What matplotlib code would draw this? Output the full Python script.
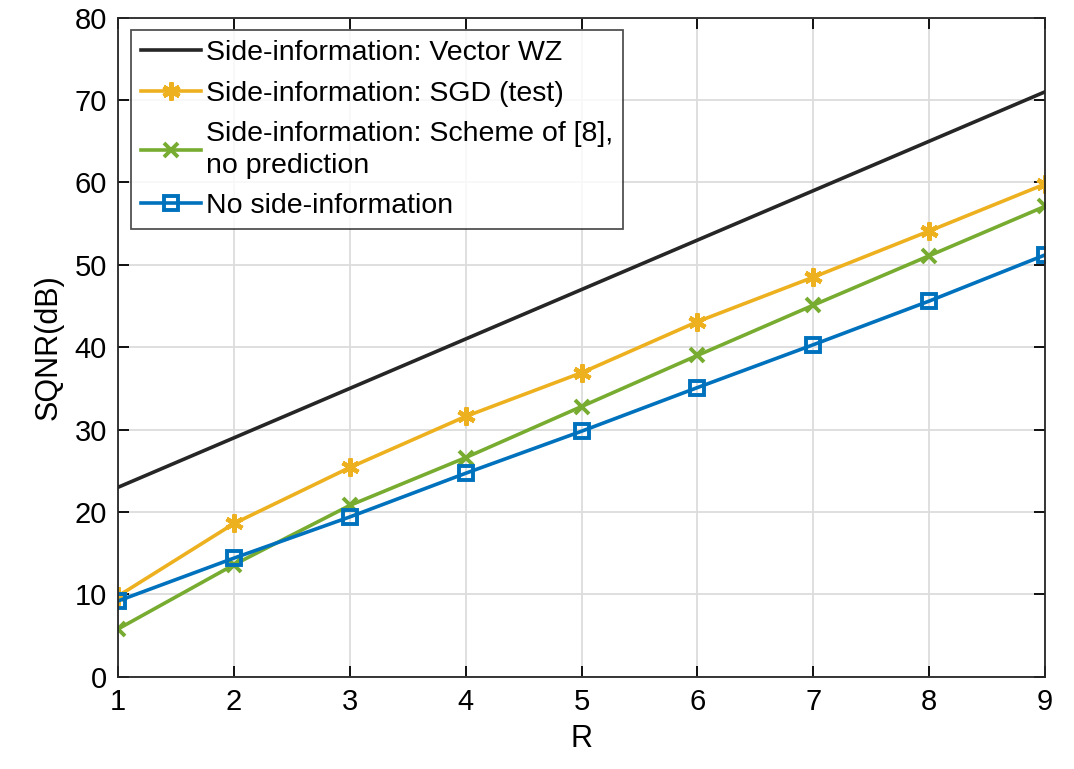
import matplotlib
matplotlib.use("Agg")
import matplotlib.pyplot as plt

plt.rcParams['font.family'] = ['Liberation Sans', 'DejaVu Sans']

R = [1, 2, 3, 4, 5, 6, 7, 8, 9]
vector_wz = [23.0, 29.0, 35.0, 41.0, 47.0, 53.0, 59.0, 65.0, 71.0]
sgd_test = [9.8, 18.6, 25.4, 31.6, 36.9, 43.1, 48.5, 54.1, 59.8]
scheme_8 = [5.8, 13.6, 20.8, 26.6, 32.8, 39.0, 45.1, 51.1, 57.1]
no_side = [9.2, 14.4, 19.4, 24.7, 29.8, 35.1, 40.3, 45.6, 51.2]

labels = [
    "Side-information: Vector WZ",
    "Side-information: SGD (test)",
    "Side-information: Scheme of [8],\nno prediction",
    "No side-information",
]

fig = plt.figure(figsize=(10.74, 7.69), dpi=100)
ax = fig.add_axes([0.110, 0.120, 0.863, 0.857])

lw = 2.6
ax.plot(R, vector_wz, color="#262626", linewidth=lw, label=labels[0])
ax.plot(R, sgd_test, color="#EDB120", linewidth=lw, marker=(6, 2, 0),
        markersize=13, markeredgewidth=3.2, label=labels[1])
ax.plot(R, scheme_8, color="#77AC30", linewidth=lw, marker="x",
        markersize=10, markeredgewidth=2.8, label=labels[2])
ax.plot(R, no_side, color="#0072BD", linewidth=lw, marker="s",
        markersize=10, markerfacecolor="none", markeredgewidth=2.8,
        label=labels[3])

ax.set_xlim(1, 9)
ax.set_ylim(0, 80)
ax.set_xticks(R)
ax.set_yticks(range(0, 81, 10))
ax.grid(True, color="#dcdcdc", linewidth=1.3)
ax.set_axisbelow(True)
ax.tick_params(axis="both", labelsize=21, direction="in", length=8,
               width=1.3, top=True, right=True, pad=8)
for s in ax.spines.values():
    s.set_linewidth(1.3)
    s.set_color("#262626")

ax.set_xlabel("R", fontsize=22, labelpad=6)
ax.set_ylabel("SQNR(dB)", fontsize=22, labelpad=8)

leg = ax.legend(loc="upper left", fontsize=20.5, frameon=True, fancybox=False,
                edgecolor="#262626", handlelength=2.1, handletextpad=0.2,
                borderaxespad=0.45, labelspacing=0.5, borderpad=0.35)
leg.get_frame().set_linewidth(1.3)
for t in leg.get_texts():
    t.set_linespacing(1.3)

fig.savefig("out.png", dpi=100)
